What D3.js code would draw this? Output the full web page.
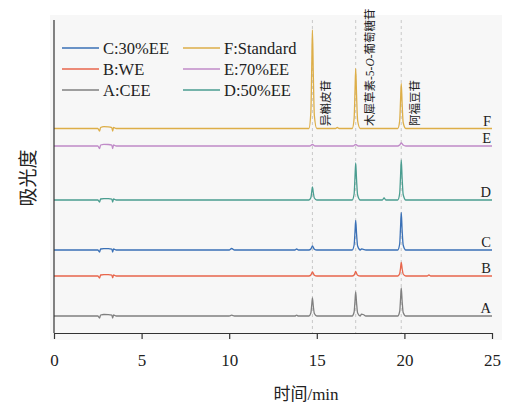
<!DOCTYPE html>
<html>
<head>
<meta charset="utf-8">
<script src="https://cdn.jsdelivr.net/npm/d3@7"></script>
<style>
  body { margin: 0; background: #fff; }
  svg { display: block; }
</style>
</head>
<body>
<script>
// chart size
const width = 523;
const height = 405;

// retention times of the three marked compounds (min)
const markedTimes = [14.75, 17.22, 19.82];
const markedNames = ["异槲皮苷", "木犀草素-5-O-葡萄糖苷", "阿福豆苷"];

const xTicks = [0, 5, 10, 15, 20, 25];

// series keys, legend labels, colours, stacking offsets (absorbance units)
const keys = ["A", "B", "C", "D", "E", "F"];
const legendNames = { A: "A:CEE", B: "B:WE", C: "C:30%EE", D: "D:50%EE", E: "E:70%EE", F: "F:Standard" };
const colors = { A: "#808080", B: "#e8664c", C: "#3a70b6", D: "#4a9d90", E: "#c08bc8", F: "#ddae48" };
const offsets = { A: 0, B: 40, C: 66, D: 116, E: 170, F: 187.5 };

// chromatogram points [time, signal]
const seriesA = [
  [0, 0], [2.5, 0], [2.6, -2], [2.66, 1], [2.85, 1.5], [3.1, 1.4], [3.3, 0.8], [3.35, -2], [3.4, 1], [3.55, 0],
  [10.0, 0], [10.14, 0.8], [10.3, 0], [13.75, 0], [13.85, 0.8], [13.95, 0],
  [14.55, 0], [14.66, 3], [14.71, 11], [14.75, 18], [14.8, 10], [14.86, 2.5], [15.0, 0],
  [17.02, 0], [17.13, 4], [17.18, 15], [17.22, 24], [17.27, 13], [17.33, 3], [17.48, 0],
  [17.55, 1.8], [17.65, 1.5], [17.8, 0],
  [19.62, 0], [19.73, 4.5], [19.78, 17], [19.82, 28], [19.87, 15], [19.93, 3.5], [20.08, 0],
  [25, 0]
];
const seriesB = [
  [0, 0], [2.5, 0], [2.6, -2], [2.66, 1], [2.85, 1.4], [3.1, 1.3], [3.3, 0.8], [3.35, -1.8], [3.4, 1], [3.55, 0],
  [14.55, 0], [14.66, 1], [14.71, 2.8], [14.75, 4], [14.8, 2.6], [14.86, 0.8], [15.0, 0],
  [17.02, 0], [17.13, 1], [17.18, 3], [17.22, 4.5], [17.27, 2.6], [17.33, 0.8], [17.48, 0],
  [19.62, 0], [19.73, 2.2], [19.78, 8], [19.82, 13.5], [19.87, 7.5], [19.93, 2], [20.08, 0],
  [21.3, 0], [21.4, 1], [21.5, 0], [25, 0]
];
const seriesC = [
  [0, 0], [2.5, 0], [2.6, -2], [2.66, 1], [2.85, 1.3], [3.1, 1.3], [3.3, 0.8], [3.35, -2], [3.4, 1], [3.55, 0],
  [10.0, 0], [10.14, 1.5], [10.3, 0], [13.75, 0], [13.85, 1], [13.95, 0],
  [14.55, 0], [14.66, 1], [14.71, 2.8], [14.75, 4], [14.8, 2.6], [14.86, 0.8], [15.0, 0],
  [17.02, 0], [17.13, 5], [17.18, 18], [17.22, 29.5], [17.27, 16], [17.33, 4], [17.48, 0],
  [17.55, 1], [17.65, 0.6], [17.8, 0],
  [19.62, 0], [19.73, 6], [19.78, 23], [19.82, 37.5], [19.87, 20], [19.93, 5], [20.08, 0],
  [25, 0]
];
const seriesD = [
  [0, 0], [2.5, 0], [2.6, -2], [2.66, 1], [2.85, 1.4], [3.1, 1.3], [3.3, 0.8], [3.35, -2], [3.4, 1], [3.55, 0],
  [14.55, 0], [14.66, 2.2], [14.71, 8], [14.75, 13], [14.8, 7.5], [14.86, 2], [15.0, 0],
  [17.02, 0], [17.13, 6], [17.18, 23], [17.22, 37], [17.27, 20], [17.33, 5], [17.48, 0],
  [18.74, 0], [18.84, 2], [18.94, 0],
  [19.62, 0], [19.73, 6.5], [19.78, 24], [19.82, 40], [19.87, 22], [19.93, 5.5], [20.08, 0],
  [25, 0]
];
const seriesE = [
  [0, 0], [2.5, 0], [2.6, -2.5], [2.66, 1], [2.85, 1.6], [3.1, 1.5], [3.3, 0.8], [3.35, -2.5], [3.4, 1], [3.55, 0],
  [14.6, 0], [14.75, 1.5], [14.9, 0],
  [17.07, 0], [17.22, 1.5], [17.37, 0],
  [19.62, 0], [19.73, 1], [19.82, 3], [19.93, 1], [20.08, 0],
  [25, 0]
];
const seriesF = [
  [0, 0], [2.5, 0], [2.6, -2.5], [2.66, 1], [2.85, 1.8], [3.1, 1.6], [3.3, 0.8], [3.35, -2.5], [3.4, 1], [3.55, 0],
  [14.55, 0], [14.66, 16], [14.71, 60], [14.75, 98.5], [14.8, 55], [14.86, 13], [15.0, 0],
  [16.07, 0], [16.17, 1], [16.27, 0],
  [17.02, 0], [17.13, 10], [17.18, 37], [17.22, 60], [17.27, 33], [17.33, 8], [17.48, 0],
  [19.62, 0], [19.73, 7.5], [19.78, 28], [19.82, 45], [19.87, 25], [19.93, 6], [20.08, 0],
  [25, 0]
];
const seriesData = { A: seriesA, B: seriesB, C: seriesC, D: seriesD, E: seriesE, F: seriesF };

const legendCol1 = ["C", "B", "A"];
const legendCol2 = ["F", "E", "D"];

const serif = "'Liberation Serif', 'Times New Roman', 'Noto Sans CJK SC', serif";
const cjk = "'Liberation Serif', 'Noto Sans CJK SC', serif";

const margin = { top: 20, right: 31, bottom: 72, left: 54 };

const x = d3.scaleLinear()
  .domain([0, 25])
  .range([margin.left, width - margin.right]);

const y = d3.scaleLinear()
  .domain([-17, 296])
  .range([height - margin.bottom, margin.top]);

const svg = d3.select("body")
  .append("svg")
  .attr("width", width)
  .attr("height", height)
  .attr("viewBox", [0, 0, width, height]);

// light plot panel
svg.append("rect")
  .attr("x", margin.left - 4)
  .attr("y", margin.top - 5)
  .attr("width", width - margin.right - margin.left + 14)
  .attr("height", height - margin.bottom - margin.top + 12)
  .attr("fill", "#f7f7f7");

// dashed guides at retention times
svg.append("g")
  .selectAll("line")
  .data(markedTimes)
  .join("line")
  .attr("x1", d => x(d))
  .attr("x2", d => x(d))
  .attr("y1", margin.top)
  .attr("y2", height - margin.bottom)
  .attr("stroke", "#bdbdbd")
  .attr("stroke-width", 0.8)
  .attr("stroke-dasharray", "3,3");

// traces
const line = d3.line()
  .x(d => x(d[0]))
  .y(d => y(d[1]))
  .curve(d3.curveMonotoneX);

svg.append("g")
  .selectAll("path")
  .data(keys)
  .join("path")
  .attr("fill", "none")
  .attr("stroke", k => colors[k])
  .attr("stroke-width", 1.3)
  .attr("d", k => line(seriesData[k].map(p => [p[0], p[1] + offsets[k]])));

// trace letters at the right
svg.append("g")
  .selectAll("text")
  .data(keys)
  .join("text")
  .attr("x", x(25) - 1)
  .attr("y", k => y(offsets[k]) - 3)
  .attr("text-anchor", "end")
  .attr("font-family", serif)
  .attr("font-size", 14.5)
  .attr("fill", "#222")
  .text(k => k);

// compound names, vertical
svg.append("g")
  .selectAll("text")
  .data(markedNames)
  .join("text")
  .attr("transform", (d, i) => `translate(${x(markedTimes[i]) + 18},${126}) rotate(-90)`)
  .attr("font-family", cjk)
  .attr("font-size", 11.5)
  .attr("fill", "#222")
  .each(function(d) {
    const t = d3.select(this);
    const parts = d.split("O");
    if (parts.length > 1) {
      t.append("tspan").text(parts[0]);
      t.append("tspan").attr("font-style", "italic").text("O");
      t.append("tspan").text(parts[1]);
    } else {
      t.text(d);
    }
  });

// x axis
const xAxis = svg.append("g")
  .attr("transform", `translate(0,${height - margin.bottom})`)
  .call(d3.axisBottom(x).tickValues(xTicks).tickSize(6).tickPadding(15).tickSizeOuter(0));
xAxis.selectAll("path, line").attr("stroke", "#333").attr("stroke-width", 1.2);
xAxis.selectAll("text")
  .attr("font-family", serif)
  .attr("font-size", 17)
  .attr("fill", "#222");

// y axis line only
svg.append("line")
  .attr("x1", margin.left)
  .attr("x2", margin.left)
  .attr("y1", margin.top)
  .attr("y2", height - margin.bottom)
  .attr("stroke", "#333")
  .attr("stroke-width", 1.2);

// axis titles
svg.append("text")
  .attr("x", 306)
  .attr("y", 400)
  .attr("text-anchor", "middle")
  .attr("font-family", cjk)
  .attr("font-size", 17)
  .attr("fill", "#222")
  .text("时间/min");

svg.append("text")
  .attr("transform", `translate(35,178) rotate(-90)`)
  .attr("text-anchor", "middle")
  .attr("font-family", cjk)
  .attr("font-size", 19)
  .attr("fill", "#222")
  .text("吸光度");

// legend
const legend = svg.append("g").attr("font-family", serif).attr("font-size", 16.5).attr("fill", "#222");
[legendCol1, legendCol2].forEach((col, ci) => {
  const x0 = ci === 0 ? 62 : 183;
  col.forEach((k, ri) => {
    const yy = 48 + ri * 21;
    legend.append("line")
      .attr("x1", x0).attr("x2", x0 + 37)
      .attr("y1", yy).attr("y2", yy)
      .attr("stroke", colors[k]).attr("stroke-width", 1.3);
    legend.append("text")
      .attr("x", x0 + 41).attr("y", yy + 6)
      .text(legendNames[k]);
  });
});
</script>
</body>
</html>
